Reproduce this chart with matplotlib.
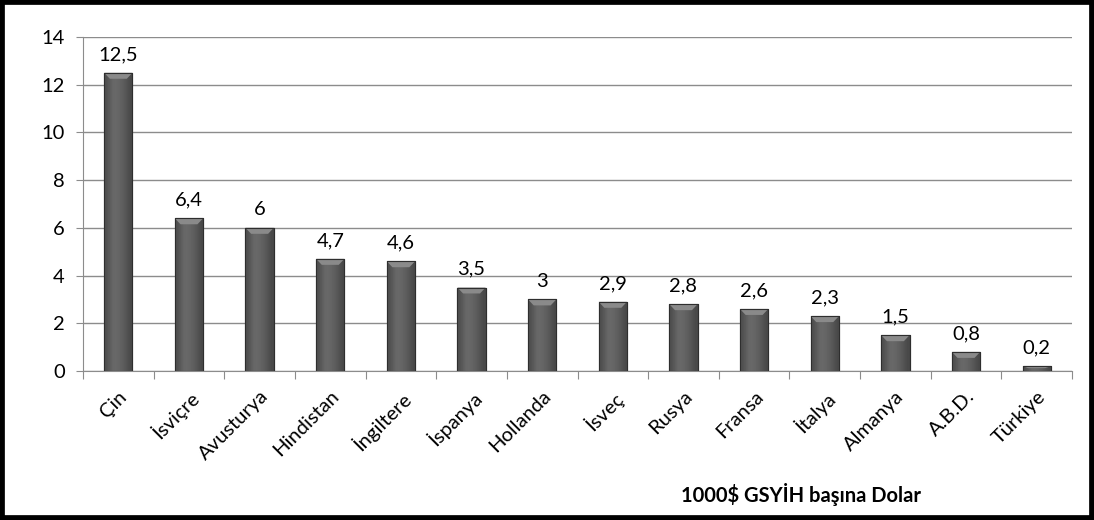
import numpy as np
import matplotlib
matplotlib.use('Agg')
import matplotlib.pyplot as plt
from matplotlib.patches import Rectangle

countries = ['Çin', 'İsviçre', 'Avusturya', 'Hindistan', 'İngiltere', 'İspanya', 'Hollanda',
             'İsveç', 'Rusya', 'Fransa', 'İtalya', 'Almanya', 'A.B.D.', 'Türkiye']
values = [12.5, 6.4, 6, 4.7, 4.6, 3.5, 3, 2.9, 2.8, 2.6, 2.3, 1.5, 0.8, 0.2]
yticks = [0, 2, 4, 6, 8, 10, 12, 14]
xlabel = '1000$ GSYİH başına Dolar'

plt.rcParams.update({'font.family': ['Lato', 'DejaVu Sans'], 'font.size': 14.5})

fig = plt.figure(figsize=(10.94, 5.2), dpi=100)
ax = fig.add_axes([83 / 1094, 149 / 520, (1072 - 83) / 1094, (371 - 37) / 520])

x = np.arange(len(values))
bars = ax.bar(x, values, width=0.4, color='#555555', edgecolor='#333333', linewidth=0.8, zorder=3)

# horizontal shading across each bar
grad = np.array([[0.30, 0.42, 0.40, 0.36, 0.28]])
for b in bars:
    x0, w, h = b.get_x(), b.get_width(), b.get_height()
    im = ax.imshow(grad, cmap='gray', vmin=0, vmax=1, aspect='auto', interpolation='bicubic',
                   extent=(x0, x0 + w, 0, h), zorder=3.5)
    im.set_clip_path(b)
    # lighter bevel at the top of the bar
    bev = min(0.25, h * 0.4)
    ax.fill([x0, x0 + w, x0 + w * 0.8, x0 + w * 0.2], [h, h, h - bev, h - bev],
            color='#8a8a8a', zorder=4, lw=0)
    ax.plot([x0, x0 + w, x0 + w, x0, x0], [0, 0, h, h, 0], color='#2e2e2e', lw=0.8, zorder=4.5)

for xi, v in zip(x, values):
    ax.annotate(f'{v:g}'.replace('.', ','), (xi, v), xytext=(0, 7), textcoords='offset points',
                ha='center', va='bottom')

ax.set_xlim(-0.5, len(values) - 0.5)
ax.set_ylim(0, 14)
ax.set_yticks(yticks)
ax.yaxis.grid(True, color='#8c8c8c', lw=1)
ax.set_axisbelow(True)

ax.set_xticks(np.arange(len(values) + 1) - 0.5, minor=False)
ax.set_xticklabels([])
ax.set_xticks(x, minor=True)
ax.set_xticklabels(countries, minor=True, rotation=45, ha='right', va='top', rotation_mode='anchor')
ax.tick_params(axis='x', which='minor', length=0, pad=12)
ax.tick_params(axis='x', which='major', length=6, color='#8c8c8c')
ax.tick_params(axis='y', length=5, color='#8c8c8c', pad=8)

for s in ['top', 'right']:
    ax.spines[s].set_visible(False)
for s in ['left', 'bottom']:
    ax.spines[s].set_color('#8c8c8c')

fig.text(801 / 1094, 1 - 494 / 520, xlabel, ha='center', va='center', fontsize=14.5, fontweight='bold')

fig.patches.append(Rectangle((0, 0), 1, 1, transform=fig.transFigure, fill=False,
                             edgecolor='black', lw=7, zorder=10))

fig.savefig('out.png', dpi=100)
